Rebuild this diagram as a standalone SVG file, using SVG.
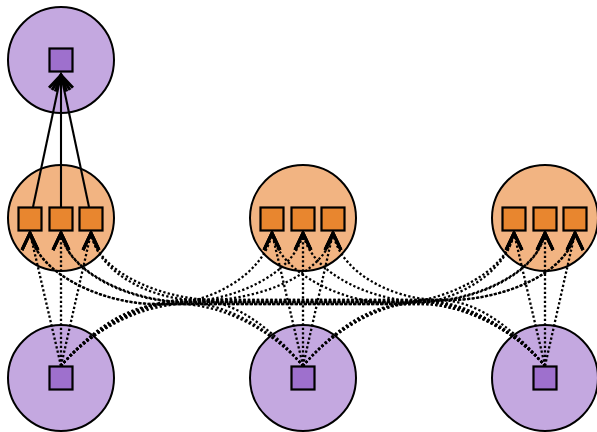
<svg xmlns="http://www.w3.org/2000/svg" width="597" height="432" viewBox="0 0 597 432">
<style>
.cp{fill:#c4a8e0;stroke:#000;stroke-width:2}
.co{fill:#f2b482;stroke:#000;stroke-width:2}
.sp{fill:#9e70cd;stroke:#000;stroke-width:2.2}
.so{fill:#e8862f;stroke:#000;stroke-width:2.2}
.d{fill:none;stroke:#000;stroke-width:2.3;stroke-dasharray:2.3 2.2;marker-end:url(#up)}
.s{fill:none;stroke:#000;stroke-width:2.1;marker-end:url(#vee)}
.ah{fill:none;stroke:#000;stroke-width:3;stroke-linejoin:miter}
</style>
<defs>
<marker id="vee" markerUnits="userSpaceOnUse" refX="15" refY="0" markerWidth="1" markerHeight="1" orient="auto" overflow="visible"><path class="ah" d="M0,-9 L15,0 L0,9"/></marker>
<marker id="up" markerUnits="userSpaceOnUse" refX="17" refY="0" markerWidth="1" markerHeight="1" orient="270" overflow="visible"><path class="ah" d="M0,-8 L17,0 L0,8"/></marker>
</defs>
<g id="cluster_top"><circle class="cp" cx="61" cy="60" r="53"/></g>
<g id="cluster_o1"><circle class="co" cx="61" cy="218" r="53"/></g>
<g id="cluster_o2"><circle class="co" cx="303" cy="218" r="53"/></g>
<g id="cluster_o3"><circle class="co" cx="545" cy="218" r="53"/></g>
<g id="cluster_b1"><circle class="cp" cx="61" cy="378" r="53"/></g>
<g id="cluster_b2"><circle class="cp" cx="303" cy="378" r="53"/></g>
<g id="cluster_b3"><circle class="cp" cx="545" cy="378" r="53"/></g>
<g id="connectors">
<path class="s" d="M33,207 L61,75"/>
<path class="s" d="M61,207 L61,75"/>
<path class="s" d="M89,207 L61,75"/>
<path class="d" d="M61,366 L30,233"/>
<path class="d" d="M61,366 L61,233"/>
<path class="d" d="M61,366 L91,233"/>
<path class="d" d="M61,366 C86,336 124.3,304 166.5,304 C208.7,304 264,275 272,233"/>
<path class="d" d="M61,366 C86,336 133.6,302 182,302 C230.4,302 295,275 303,233"/>
<path class="d" d="M61,366 C86,336 136,300 186,300 L208,300 C258,300 325,275 333,233"/>
<path class="d" d="M61,366 C86,336 136,304 186,304 L389,304 C439,304 506,275 514,233"/>
<path class="d" d="M61,366 C86,336 136,302 186,302 L420,302 C470,302 537,275 545,233"/>
<path class="d" d="M61,366 C86,336 136,300 186,300 L450,300 C500,300 567,275 575,233"/>
<path class="d" d="M303,366 L272,233"/>
<path class="d" d="M303,366 L303,233"/>
<path class="d" d="M303,366 L333,233"/>
<path class="d" d="M303,366 C278,336 228,304 178,304 L155,304 C105,304 38,275 30,233"/>
<path class="d" d="M303,366 C278,336 230.4,302 182,302 C133.6,302 69,275 61,233"/>
<path class="d" d="M303,366 C278,336 239.4,300 197,300 C154.6,300 99,275 91,233"/>
<path class="d" d="M303,366 C328,336 366.3,304 408.5,304 C450.7,304 506,275 514,233"/>
<path class="d" d="M303,366 C328,336 375.6,302 424,302 C472.4,302 537,275 545,233"/>
<path class="d" d="M303,366 C328,336 378,300 428,300 L450,300 C500,300 567,275 575,233"/>
<path class="d" d="M545,366 L514,233"/>
<path class="d" d="M545,366 L545,233"/>
<path class="d" d="M545,366 L575,233"/>
<path class="d" d="M545,366 C520,336 470,304 420,304 L155,304 C105,304 38,275 30,233"/>
<path class="d" d="M545,366 C520,336 470,302 420,302 L186,302 C136,302 69,275 61,233"/>
<path class="d" d="M545,366 C520,336 470,300 420,300 L216,300 C166,300 99,275 91,233"/>
<path class="d" d="M545,366 C520,336 470,304 420,304 L397,304 C347,304 280,275 272,233"/>
<path class="d" d="M545,366 C520,336 472.4,302 424,302 C375.6,302 311,275 303,233"/>
<path class="d" d="M545,366 C520,336 481.4,300 439,300 C396.6,300 341,275 333,233"/>
</g>
<g id="n_top"><rect class="sp" x="49.5" y="48.5" width="23" height="23"/></g>
<g id="n_o1a"><rect class="so" x="18.5" y="207.5" width="23" height="23"/></g>
<g id="n_o1b"><rect class="so" x="49.5" y="207.5" width="23" height="23"/></g>
<g id="n_o1c"><rect class="so" x="79.5" y="207.5" width="23" height="23"/></g>
<g id="n_o2a"><rect class="so" x="260.5" y="207.5" width="23" height="23"/></g>
<g id="n_o2b"><rect class="so" x="291.5" y="207.5" width="23" height="23"/></g>
<g id="n_o2c"><rect class="so" x="321.5" y="207.5" width="23" height="23"/></g>
<g id="n_o3a"><rect class="so" x="502.5" y="207.5" width="23" height="23"/></g>
<g id="n_o3b"><rect class="so" x="533.5" y="207.5" width="23" height="23"/></g>
<g id="n_o3c"><rect class="so" x="563.5" y="207.5" width="23" height="23"/></g>
<g id="n_b1"><rect class="sp" x="49.5" y="366.5" width="23" height="23"/></g>
<g id="n_b2"><rect class="sp" x="291.5" y="366.5" width="23" height="23"/></g>
<g id="n_b3"><rect class="sp" x="533.5" y="366.5" width="23" height="23"/></g>
</svg>
